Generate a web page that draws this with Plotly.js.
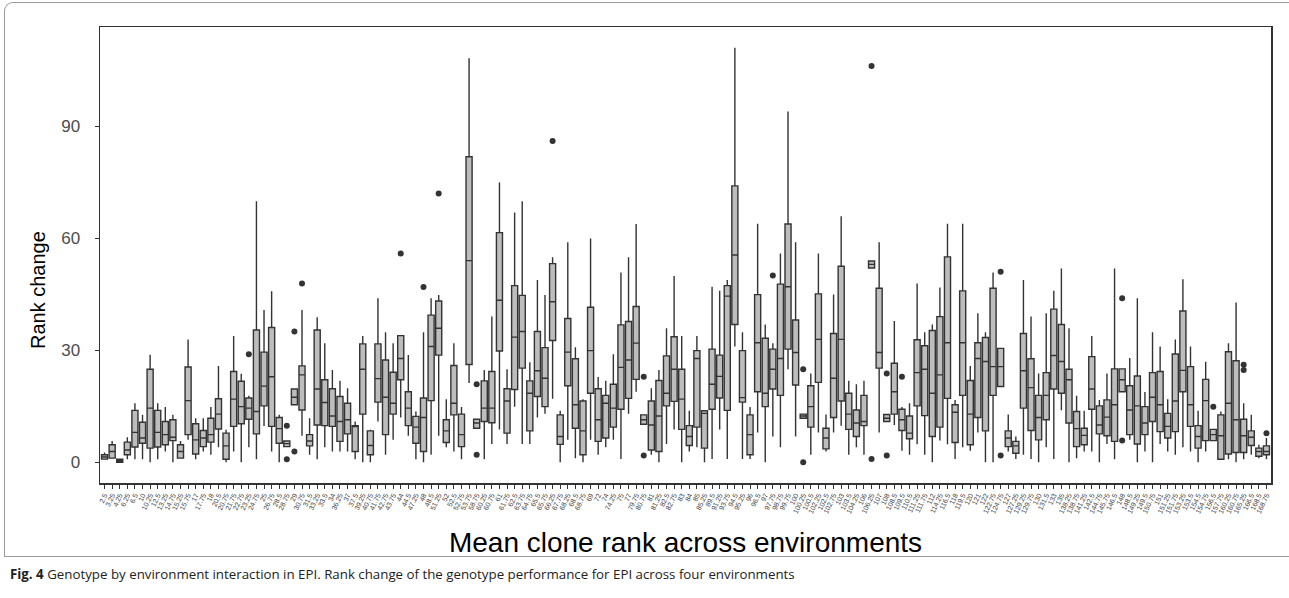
<!DOCTYPE html>
<html>
<head>
<meta charset="utf-8">
<script src="https://cdn.plot.ly/plotly-3.0.1.min.js"></script>
<style>
  html, body { margin: 0; padding: 0; background: #fff; }
  #wrap { position: relative; width: 1289px; height: 598px; overflow: hidden; }
  #chart { position: absolute; left: 0; top: 0; width: 1289px; height: 598px; }
  #frame { position: absolute; left: 4px; top: 2px; width: 1300px; height: 553px;
           border-left: 1px solid #9a9a9a; border-top: 1px solid #9a9a9a; border-bottom: 1px solid #9a9a9a;
           border-top-left-radius: 9px; pointer-events: none; }
  #caption { position: absolute; left: 10px; top: 565px; font-family: "Open Sans", "Liberation Sans", sans-serif;
             font-size: 13.3px; color: #222; white-space: nowrap; }
</style>
</head>
<body>
<div id="wrap">
  <div id="chart"></div>
  <div id="frame"></div>
  <div id="caption"><b>Fig. 4</b> Genotype by environment interaction in EPI. Rank change of the genotype performance for EPI across four environments</div>
</div>
<script>
// Categories: mean clone rank across environments
const categories = ["2.5","3.25","4.25","6.25","6.5","10","10.25","12.5","13.25","14.75","15.25","15.75","17","17.75","18","20.5","20.75","21.75","22.75","23.25","24.75","25","26.75","28.5","28.75","29","30.75","31.5","33.25","33.5","34","36.25","37","37.5","39.25","40.75","41.75","42.75","43.75","44","44.5","47.25","48","48.5","51.25","52","52.5","52.75","53.75","58.75","60.25","60.75","61","61.75","62.5","63.75","64.75","65.5","65.75","66.25","67.75","68.25","68.5","68.75","69","72","74","74.25","75","77","79.75","80.75","81","81.25","82.5","82.75","83","84","85","85.25","89.5","91.25","93.75","94.5","95.25","96","96.5","97","97.75","98.75","99.75","100","100.25","100.5","102.25","102.5","102.75","103","103.5","104.25","106","106.25","107","108","108.5","109.5","110.5","111.25","111.75","112","114.25","116.5","118","119.5","120","121","122","122.75","124.75","127","127.25","129.25","129.75","130","131.5","133","135","138.25","138.75","141.25","142.5","144.75","145.75","146.5","148","148.5","149.25","149.5","150.75","151","151.25","151.75","153.25","153.5","154.5","154.75","156.5","157.75","160.25","160.75","165.25","166.5","168.5","168.75"];

const lowerWhisker = [0.8,1.1,0,0.8,0.8,0.8,0,0.8,2.9,0,1.1,6.0,0.8,2.9,2.0,4.0,0,2.9,0,4.0,0.8,9.7,2.9,0,4.2,15.4,7.1,2.0,0.8,4.0,2.9,2.9,2.9,0.8,0,0,10.9,2.0,6.0,12.0,7.1,0.8,0,2.0,7.1,4.0,2.9,0.8,21.2,9.1,0.8,4.9,8.8,4.9,14.9,4.9,4.9,12.0,13.0,17.0,0,6.0,1.1,0,6.0,2.0,4.0,6.0,0.9,13.0,18.9,10.2,2.0,0,4.9,8.8,0,2.9,4.0,0,0.9,8.8,0.9,31.0,0.9,0.9,8.0,0,6.9,4.0,24.9,6.9,11.8,2.0,8.0,2.9,8.0,9.8,2.0,4.0,2.0,52.0,8.0,10.9,10.0,3.1,2.0,4.8,2.0,0,5.8,4.8,0.9,4.0,3.1,8.0,0,0,20.3,2.9,0.9,2.0,0.9,0,4.0,0.9,13.9,0,1.1,2.9,2.9,0,4.9,0.8,18.9,6.0,0,2.9,0,4.9,2.9,2.0,4.0,2.9,0,2.9,5.8,0.8,0.8,0,0.8,2.0,1.1,0.8];

const q1 = [0.85,1.1,0,2.0,4.1,5.1,3.8,4.1,4.7,5.8,1.1,7.4,2.2,4.2,5.4,8.9,0.8,9.6,10.3,11.5,7.6,15.1,9.6,5.1,4.2,15.4,14.0,4.4,10.0,9.8,9.6,5.6,7.6,2.9,12.9,2.0,16.1,7.4,12.9,22.1,9.8,5.1,2.9,16.5,28.7,5.3,12.7,4.2,26.2,9.1,10.9,10.6,29.8,7.8,19.5,25.2,8.4,17.6,14.9,32.6,4.8,20.5,9.1,2.0,18.5,5.6,6.5,9.4,14.2,17.1,22.2,10.2,3.3,2.9,15.1,16.3,8.8,4.5,9.4,3.8,14.2,17.2,13.9,36.9,16.1,2.0,18.9,14.9,19.6,17.9,30.3,20.7,11.8,9.4,21.4,3.6,12.0,16.4,8.8,6.9,9.8,52.0,25.2,10.9,12.9,8.5,6.3,15.1,12.5,6.9,9.4,17.1,5.3,17.9,4.7,12.0,8.4,17.9,20.3,4.2,2.4,14.5,8.5,6.0,11.4,19.6,18.5,10.5,4.2,4.7,14.2,7.6,7.1,5.6,18.9,7.4,4.9,7.4,10.9,8.2,6.5,8.2,18.9,9.6,3.8,5.8,5.8,0.8,2.2,2.6,2.6,4.5,1.6,2.0];

const median = [1.4,2.9,0.4,3.3,8.0,6.5,14.5,8.0,7.4,6.7,2.9,16.5,6.0,6.5,7.4,12.9,4.4,16.9,14.9,14.5,13.6,20.4,22.9,9.0,5.0,17.4,23.4,5.7,19.6,16.0,12.4,10.9,11.4,9.6,24.9,4.5,22.4,17.4,15.8,27.8,14.5,9.4,12.0,31.0,35.9,8.4,15.8,7.4,54.0,10.5,14.5,14.5,43.4,16.4,33.5,35.0,18.5,24.5,22.5,43.0,6.9,29.5,15.4,8.4,29.9,11.4,15.8,14.5,25.4,27.4,31.9,11.4,10.0,12.4,18.5,24.9,16.9,6.9,27.8,13.1,20.9,23.0,44.5,55.5,17.3,7.4,32.0,18.5,24.9,27.8,47.0,29.4,12.4,14.9,32.9,6.5,22.5,32.9,12.9,10.5,10.9,53.0,29.4,11.8,18.9,11.4,7.8,24.0,24.9,18.5,23.4,32.0,13.4,32.0,12.9,27.8,27.0,25.6,25.6,6.5,4.4,24.5,20.0,12.0,17.9,28.6,27.0,22.1,9.0,7.2,19.6,10.0,12.1,15.4,22.1,14.0,15.1,10.5,17.4,15.4,9.6,16.4,24.6,15.4,6.9,16.5,7.4,7.1,15.8,11.4,7.1,6.7,2.9,2.9];

const q3 = [2.0,4.7,0.8,5.4,13.9,10.7,24.9,13.9,10.9,11.4,4.7,25.5,10.3,8.5,11.8,17.0,7.8,24.3,21.7,17.2,35.4,29.5,36.1,12.0,5.7,19.6,25.8,7.4,35.4,22.1,19.7,17.6,15.8,9.8,31.7,8.4,31.7,27.4,24.1,33.9,18.9,12.3,17.2,39.4,43.2,11.4,25.9,12.9,81.8,11.5,21.8,24.3,61.5,19.7,47.3,44.7,21.8,35.0,30.7,53.2,12.7,38.5,27.7,16.4,41.5,19.7,17.9,20.9,36.8,37.7,41.7,12.7,16.4,21.9,28.5,33.6,24.9,9.8,29.9,13.8,30.3,28.7,47.3,74.0,29.9,12.7,44.9,33.2,30.3,47.7,63.8,38.1,12.9,20.5,45.1,9.1,34.5,52.5,18.5,14.0,17.9,53.9,46.6,12.8,26.5,14.2,12.4,32.8,31.2,35.3,39.0,55.0,15.4,45.9,21.9,32.0,33.4,46.6,30.5,8.4,5.6,34.5,27.7,17.9,24.0,41.0,36.9,24.9,13.6,9.1,28.3,15.1,16.7,25.0,25.0,20.5,23.1,14.9,24.0,24.3,13.1,29.0,40.5,25.6,9.8,22.2,8.8,12.7,29.6,27.2,11.5,8.4,3.8,4.4];

const upperWhisker = [2.6,5.7,0.8,6.7,15.8,12.7,28.8,15.8,14.8,12.7,5.7,32.9,11.8,11.8,14.8,25.8,8.7,33.8,23.7,17.8,69.9,40.8,45.8,12.7,5.7,19.6,40.8,11.8,38.8,31.9,24.7,21.8,19.8,10.9,33.8,8.7,43.9,34.8,31.9,33.9,28.7,13.6,34.8,43.9,44.8,16.9,31.9,14.8,108.2,11.5,24.7,39.0,74.9,24.9,66.9,69.9,26.8,48.8,44.8,54.9,13.8,58.9,30.8,16.9,59.9,22.8,21.8,28.9,50.8,54.9,63.8,12.7,19.8,24.7,35.9,49.9,33.8,13.8,33.8,13.8,47.0,45.9,48.8,111.0,34.8,14.8,63.9,36.9,31.9,55.9,93.9,58.9,12.9,23.8,55.9,12.8,44.9,65.9,21.8,20.9,21.8,53.9,58.9,12.8,37.8,14.8,15.8,47.9,34.8,36.9,46.8,63.9,16.7,63.9,25.8,39.9,34.8,50.8,30.5,12.8,6.9,48.8,39.0,23.8,39.9,45.9,51.9,35.9,17.8,13.8,33.8,16.7,23.8,51.9,25.0,27.9,43.9,18.8,34.8,31.0,16.9,32.9,49.0,31.0,13.8,26.9,8.8,13.6,31.9,42.8,15.8,12.7,4.7,6.5];

// Outliers
const outlierCategory = ["23.25","28.75","28.75","29","29","30.75","44","48","51.25","58.75","58.75","66.25","80.75","80.75","97.75","100.25","100.25","106.25","106.25","108","108","109.5","124.75","124.75","148","148","156.5","165.25","165.25","168.75"];
const outlierValue = [28.9,9.8,0.8,35.0,2.9,47.9,55.9,46.9,72.0,20.9,2.0,86.0,22.9,1.8,50.0,24.9,0,106.1,0.9,23.8,1.8,22.9,51.0,1.8,43.9,5.8,14.9,26.1,24.7,7.8];

const yTicks = [0, 30, 60, 90];

const boxTrace = {
  type: 'box',
  x: categories,
  q1: q1,
  median: median,
  q3: q3,
  lowerfence: lowerWhisker,
  upperfence: upperWhisker,
  boxpoints: false,
  width: 0.8,
  whiskerwidth: 0,
  fillcolor: '#bdbdbd',
  line: { color: '#333333', width: 1.4 },
  hoverinfo: 'skip',
  showlegend: false
};

const outlierTrace = {
  type: 'scatter',
  mode: 'markers',
  x: outlierCategory,
  y: outlierValue,
  marker: { color: '#333333', size: 6 },
  hoverinfo: 'skip',
  showlegend: false
};

const layout = {
  width: 1289,
  height: 598,
  margin: { l: 100, r: 18, t: 27, b: 115 },
  paper_bgcolor: 'rgba(0,0,0,0)',
  plot_bgcolor: '#ffffff',
  font: { family: 'Liberation Sans, Arial, sans-serif', color: '#000' },
  xaxis: {
    type: 'category',
    categoryorder: 'array',
    categoryarray: categories,
    tickmode: 'array',
    tickvals: categories,
    ticktext: categories,
    range: [-0.6, categories.length - 0.4],
    tickangle: -65,
    tickfont: { size: 7, color: '#444444' },
    ticks: 'outside',
    ticklen: 4,
    tickwidth: 1,
    tickcolor: '#333333',
    showline: true,
    mirror: true,
    linecolor: '#333333',
    linewidth: 1.5,
    showgrid: false,
    zeroline: false,
    automargin: false,
    title: { text: 'Mean clone rank across environments', font: { size: 28, color: '#000' }, standoff: 18 }
  },
  yaxis: {
    range: [-5.55, 116.55],
    tickmode: 'array',
    tickvals: yTicks,
    ticktext: yTicks.map(String),
    tickfont: { size: 17, color: '#4d4d4d' },
    ticks: 'outside',
    ticklen: 4,
    tickwidth: 1,
    tickcolor: '#333333',
    ticklabelstandoff: 11,
    showline: true,
    mirror: true,
    linecolor: '#333333',
    linewidth: 1.5,
    showgrid: false,
    zeroline: false,
    automargin: false,
    title: { text: '' }
  },
  annotations: [{
    text: 'Rank change',
    textangle: -90,
    xref: 'paper', yref: 'paper',
    x: (38 - 100) / 1171, y: (483 - 290) / 456,
    xanchor: 'center', yanchor: 'middle',
    showarrow: false,
    font: { size: 20, color: '#000' }
  }]
};

Plotly.newPlot('chart', [boxTrace, outlierTrace], layout, { displayModeBar: false, staticPlot: true });
</script>
</body>
</html>
